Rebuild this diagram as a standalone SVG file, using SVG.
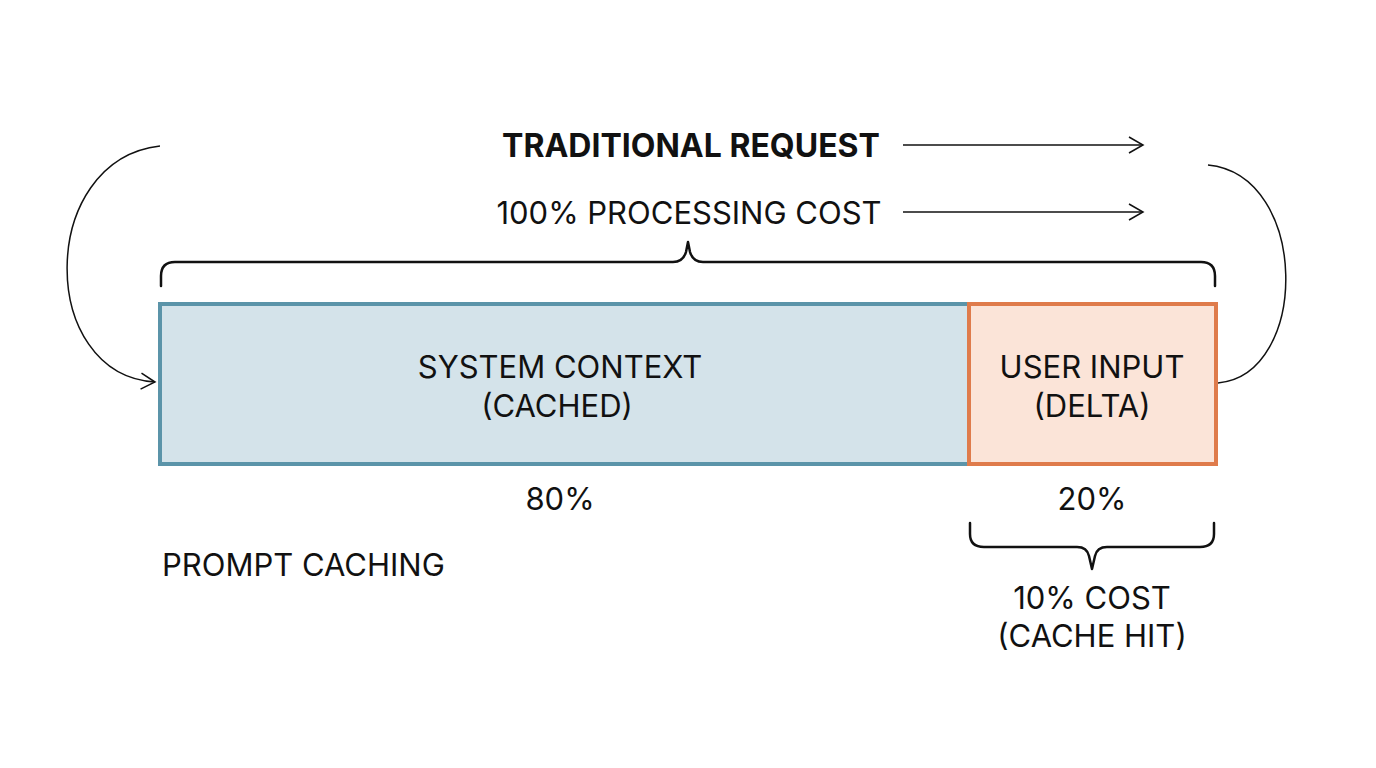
<svg xmlns="http://www.w3.org/2000/svg" width="1376" height="768" viewBox="0 0 1376 768">
<defs>
<style>
.t{font-family:Inter,"Liberation Sans",sans-serif;font-size:31px;fill:#111;text-anchor:middle}
.b{font-weight:700;font-size:32px}
.ln{fill:none;stroke:#111;stroke-width:1.5}
.br{fill:none;stroke:#111;stroke-width:2.5;stroke-linecap:round;stroke-linejoin:round}
</style>
<marker id="ah" viewBox="0 0 20 20" refX="18" refY="10" markerWidth="20" markerHeight="20" markerUnits="userSpaceOnUse" orient="auto">
<path d="M4,2 L18,10 L4,18" fill="none" stroke="#111" stroke-width="1.5"/>
</marker>
</defs>
<rect width="1376" height="768" fill="#fff"/>
<g id="title">
<text class="t b" x="691" y="157">TRADITIONAL REQUEST</text>
<text class="t" x="689" y="224">100% PROCESSING COST</text>
</g>
<g id="system-context">
<rect x="160" y="304" width="809" height="160" fill="#d4e3ea" stroke="#5b94a9" stroke-width="4"/>
<text class="t" x="560" y="378">SYSTEM CONTEXT</text>
<text class="t" x="557" y="417">(CACHED)</text>
</g>
<g id="user-input">
<rect x="969" y="304" width="247" height="160" fill="#fbe4d8" stroke="#df7b4b" stroke-width="4"/>
<text class="t" x="1092" y="378">USER INPUT</text>
<text class="t" x="1092" y="417">(DELTA)</text>
</g>
<g id="labels">
<text class="t" x="560" y="510">80%</text>
<text class="t" x="1092" y="510">20%</text>
<text class="t" x="162" y="576" style="text-anchor:start">PROMPT CACHING</text>
<text class="t" x="1092" y="609">10% COST</text>
<text class="t" x="1092" y="647">(CACHE HIT)</text>
</g>
<g id="connectors">
<path class="ln" d="M903,145 H1143" marker-end="url(#ah)"/>
<path class="ln" d="M903,212 H1143" marker-end="url(#ah)"/>
<path class="ln" d="M160,146 C37,160 37,375 155,382" marker-end="url(#ah)"/>
<path class="ln" d="M1208,165 C1310,175 1310,375 1218,383"/>
<path class="br" d="M161,286 V276 Q161,262 175,262 H673 Q683,262 686,252 L688,242 L690,252 Q693,262 703,262 H1201 Q1215,262 1215,276 V286"/>
<path class="br" d="M970,523 V534 Q970,547 984,547 H1077 Q1087,547 1089,556 L1092,569 L1095,556 Q1097,547 1107,547 H1200 Q1214,547 1214,534 V523"/>
</g>
</svg>
